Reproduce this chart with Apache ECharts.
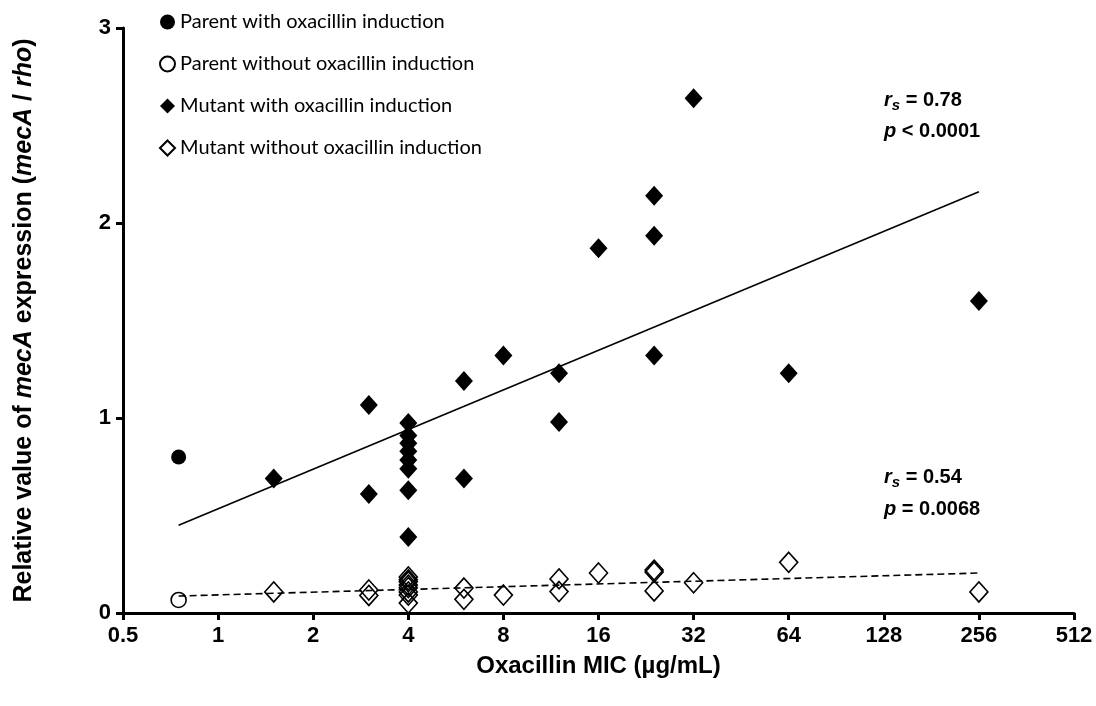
<!DOCTYPE html>
<html>
<head>
<meta charset="utf-8">
<script src="https://cdn.jsdelivr.net/npm/echarts@6/dist/echarts.min.js"></script>
<style>
html,body{margin:0;padding:0;background:#fff}
#chart{width:1096px;height:706px}
</style>
</head>
<body>
<div id="chart"></div>
<script>
// names shown in the legend
const seriesNames = [
  'Parent with oxacillin induction',
  'Parent without oxacillin induction',
  'Mutant with oxacillin induction',
  'Mutant without oxacillin induction'
];
// [MIC, relative mecA expression]
const parentWith = [[0.75, 0.80]];
const parentWithout = [[0.75, 0.067]];
const mutantWith = [
  [1.5, 0.69], [3, 1.067], [3, 0.61],
  [4, 0.975], [4, 0.91], [4, 0.87], [4, 0.83], [4, 0.785], [4, 0.74], [4, 0.63], [4, 0.39],
  [6, 1.19], [6, 0.69], [8, 1.32], [12, 1.23], [12, 0.98], [16, 1.87],
  [24, 2.14], [24, 1.935], [24, 1.32], [32, 2.64], [64, 1.23], [256, 1.60]
];
const mutantWithout = [
  [1.5, 0.108], [3, 0.118], [3, 0.09],
  [4, 0.185], [4, 0.17], [4, 0.16], [4, 0.143], [4, 0.13], [4, 0.108], [4, 0.092], [4, 0.051],
  [6, 0.128], [6, 0.07], [8, 0.092], [12, 0.175], [12, 0.11], [16, 0.205],
  [24, 0.22], [24, 0.21], [24, 0.113], [32, 0.155], [64, 0.26], [256, 0.108]
];
// fitted lines (end points)
const fitWith = [[0.75, 0.45], [256, 2.16]];
const fitWithout = [[0.75, 0.087], [256, 0.205]];
const xTickLabels = ['0.5', '1', '2', '4', '8', '16', '32', '64', '128', '256', '512'];
const yTickLabels = ['0', '1', '2', '3'];

const FONT = "'Liberation Sans', Arial, sans-serif";
const black = '#000';

const chart = echarts.init(document.getElementById('chart'), null, {renderer: 'canvas'});

const axisBase = {
  axisLine: {lineStyle: {color: black, width: 3}},
  axisTick: {show: true, length: 7, lineStyle: {color: black, width: 3}},
  splitLine: {show: false}
};

const bold = {fontFamily: FONT, fontWeight: 'bold', fontSize: 20, fill: black};
const ital = {fontFamily: FONT, fontWeight: 'bold', fontStyle: 'italic', fontSize: 20, fill: black};
const sub = {fontFamily: FONT, fontWeight: 'bold', fontStyle: 'italic', fontSize: 15, fill: black, padding: [12, 0, 0, 0]};
function statText(left, top, txt) {
  return {
    type: 'text', left: left, top: top, silent: true,
    style: {text: txt, rich: {b: bold, i: ital, s: sub}}
  };
}

const option = {
  backgroundColor: '#fff',
  animation: false,
  grid: {left: 123, right: 22, top: 28, bottom: 93},
  legend: {
    orient: 'vertical',
    left: 154,
    top: 7,
    itemWidth: 15,
    itemHeight: 15,
    itemGap: 22,
    textStyle: {fontFamily: "Lato, 'Open Sans', sans-serif", fontSize: 20, color: black, lineHeight: 20},
    data: [
      {name: seriesNames[0], icon: 'circle'},
      {name: seriesNames[1], icon: 'circle'},
      {name: seriesNames[2], icon: 'diamond'},
      {name: seriesNames[3], icon: 'diamond'}
    ]
  },
  xAxis: Object.assign({}, axisBase, {
    type: 'log',
    logBase: 2,
    min: 0.5,
    max: 512,
    interval: 1,
    axisLabel: {
      color: black, fontFamily: FONT, fontWeight: 'bold', fontSize: 22, margin: 12,
      formatter: function (v) {
        const k = Math.round(Math.log2(v)) + 1;
        return xTickLabels[k] !== undefined ? xTickLabels[k] : '';
      }
    },
    name: 'Oxacillin MIC (µg/mL)',
    nameLocation: 'middle',
    nameGap: 41,
    nameTextStyle: {color: black, fontFamily: FONT, fontWeight: 'bold', fontSize: 24}
  }),
  yAxis: Object.assign({}, axisBase, {
    type: 'value',
    min: 0,
    max: 3,
    interval: 1,
    axisLabel: {
      color: black, fontFamily: FONT, fontWeight: 'bold', fontSize: 22, margin: 12,
      formatter: function (v) { return yTickLabels[Math.round(v)]; }
    },
    name: '{b|Relative value of }{i|mecA}{b| expression (}{i|mecA}{b| / }{i|rho}{b|)}',
    nameLocation: 'middle',
    nameRotate: 90,
    nameGap: 86,
    nameTextStyle: {
      rich: {
        b: {color: black, fontFamily: FONT, fontWeight: 'bold', fontSize: 25},
        i: {color: black, fontFamily: FONT, fontWeight: 'bold', fontStyle: 'italic', fontSize: 25}
      }
    }
  }),
  series: [
    {
      type: 'line', data: fitWith, symbol: 'none', silent: true, z: 1,
      lineStyle: {color: black, width: 1.6}
    },
    {
      type: 'line', data: fitWithout, symbol: 'none', silent: true, z: 1,
      lineStyle: {color: black, width: 1.6, type: [7, 4]}
    },
    {
      name: seriesNames[0], type: 'scatter', data: parentWith, symbol: 'circle', symbolSize: 15,
      itemStyle: {color: black, opacity: 1}
    },
    {
      name: seriesNames[1], type: 'scatter', data: parentWithout, symbol: 'circle', symbolSize: 15,
      itemStyle: {color: 'rgba(255,255,255,0)', borderColor: black, borderWidth: 1.6, opacity: 1}
    },
    {
      name: seriesNames[2], type: 'scatter', data: mutantWith, symbol: 'diamond', symbolSize: [18, 20],
      itemStyle: {color: black, opacity: 1}
    },
    {
      name: seriesNames[3], type: 'scatter', data: mutantWithout, symbol: 'diamond', symbolSize: [18, 20],
      itemStyle: {color: 'rgba(255,255,255,0)', borderColor: black, borderWidth: 1.6, opacity: 1}
    }
  ],
  graphic: [
    statText(884, 90, '{i|r}{s|s}{b| = 0.78}'),
    statText(884, 121, '{i|p}{b| < 0.0001}'),
    statText(884, 467, '{i|r}{s|s}{b| = 0.54}'),
    statText(884, 499, '{i|p}{b| = 0.0068}')
  ]
};

chart.setOption(option);
</script>
</body>
</html>
